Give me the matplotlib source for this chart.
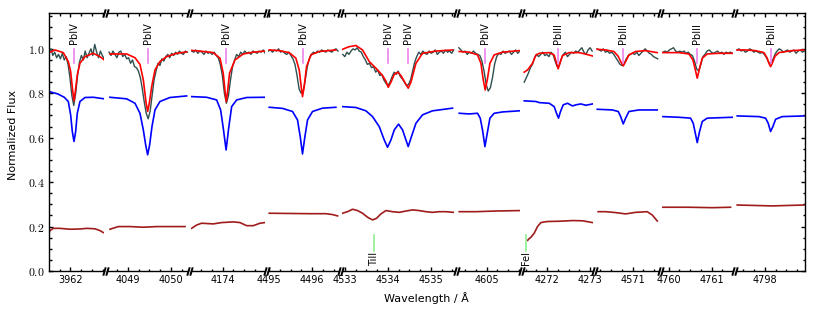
import numpy as np
import matplotlib
matplotlib.use("Agg")
import matplotlib.pyplot as plt
from matplotlib.ticker import MultipleLocator, FuncFormatter

# wavelength window of every panel (Angstrom)
windows = [(3961.505, 3962.795), (4048.523, 4050.395), (4173.263, 4174.99),
           (4494.977, 4496.628), (4532.937, 4535.565), (4604.337, 4605.779),
           (4271.447, 4273.080), (4570.156, 4571.621), (4759.856, 4761.495),
           (4797.326, 4798.930)]

# observed spectrum: (start, end) of the sampling and flux values
obs1_span = (3961.505, 3962.79)
obs1 = [0.99, 1.00, 0.97, 0.985, 0.96, 0.975, 0.955, 0.98, 0.95, 0.965, 0.93, 0.87, 0.79, 0.745, 0.80,
        0.88, 0.94, 0.97, 0.95, 0.99, 0.96, 0.98, 1.00, 0.97, 1.02, 0.985, 0.96, 0.99, 0.97, 0.955]
obs2_span = (4048.56, 4050.38)
obs2 = [0.985, 0.97, 0.99, 0.975, 0.96, 0.985, 0.99, 0.965, 0.975, 0.955, 0.96, 0.935, 0.95, 0.92,
        0.915, 0.90, 0.87, 0.82, 0.76, 0.71, 0.685, 0.72, 0.79, 0.86, 0.90, 0.935, 0.925, 0.955, 0.945,
        0.965, 0.975, 0.96, 0.98, 0.97, 0.985, 0.975, 0.99, 0.98, 0.975, 0.99, 0.985]
obs3_span = (4173.28, 4174.99)
obs3 = [0.99, 0.985, 0.995, 0.98, 0.99, 0.985, 0.975, 0.99, 0.98, 0.985, 0.975, 0.985, 0.97, 0.96,
        0.93, 0.88, 0.80, 0.755, 0.79, 0.86, 0.92, 0.95, 0.975, 0.965, 0.985, 0.975, 0.99, 0.98, 0.985,
        0.975, 0.99, 0.985, 0.98, 0.99, 0.985, 0.995, 0.98]
obs4_span = (4494.98, 4496.6)
obs4 = [0.99, 0.995, 0.985, 0.995, 0.99, 1.0, 0.985, 0.99, 0.98, 0.975, 0.985, 0.97, 0.955, 0.93,
        0.88, 0.82, 0.80, 0.81, 0.86, 0.92, 0.955, 0.975, 0.985, 0.98, 0.99, 0.985, 0.995, 0.99, 0.985,
        0.995, 0.99, 0.985, 0.995, 1.0, 0.99]
obs5_span = (4532.95, 4535.53)
obs5 = [0.975, 0.965, 0.985, 0.975, 0.99, 1.0, 0.995, 1.005, 0.99, 0.985, 0.965, 0.95, 0.93, 0.935,
        0.915, 0.92, 0.895, 0.905, 0.88, 0.885, 0.86, 0.845, 0.835, 0.85, 0.875, 0.895, 0.885, 0.9,
        0.875, 0.865, 0.85, 0.835, 0.84, 0.86, 0.9, 0.94, 0.965, 0.985, 0.975, 0.99, 0.98, 0.975, 0.99,
        0.98, 0.985, 0.995, 0.975, 0.985, 0.99, 0.98, 0.995, 0.985, 0.99, 0.98, 0.995]
obs6_span = (4604.35, 4605.77)
obs6 = [1.005, 0.995, 0.985, 0.99, 0.975, 0.985, 0.98, 0.99, 0.98, 0.975, 0.97, 0.945, 0.90, 0.84,
        0.81, 0.825, 0.87, 0.93, 0.965, 0.98, 0.975, 0.99, 0.98, 0.985, 0.99, 0.975, 0.985, 0.995,
        0.98, 0.99]
obs7_span = (4271.47, 4273.05)
obs7 = [0.85, 0.87, 0.89, 0.915, 0.93, 0.96, 0.975, 0.965, 0.975, 0.985, 0.97, 0.975, 0.965, 0.985,
        0.975, 0.945, 0.92, 0.925, 0.955, 0.975, 0.985, 0.965, 0.975, 0.985, 0.98, 0.99, 0.985, 0.995,
        1.005, 0.985, 0.975, 0.995, 1.005, 0.99]
obs8_span = (4570.17, 4571.58)
obs8 = [1.0, 0.995, 0.99, 1.0, 0.985, 0.99, 0.98, 0.985, 0.975, 0.96, 0.945, 0.93, 0.925, 0.935,
        0.955, 0.97, 0.975, 0.98, 0.975, 0.985, 0.97, 0.98, 0.99, 1.0, 0.99, 0.98, 0.975, 0.965, 0.96,
        0.955]
obs9_span = (4759.87, 4761.48)
obs9 = [0.985, 0.99, 0.985, 0.995, 1.0, 1.005, 0.99, 0.985, 0.99, 0.985, 0.99, 0.98, 0.985, 0.975,
        0.97, 0.945, 0.91, 0.90, 0.93, 0.965, 0.975, 0.99, 0.995, 0.985, 0.98, 0.985, 0.99, 0.98, 0.985,
        0.975, 0.985, 0.98, 0.985, 0.98]
obs10_span = (4797.35, 4798.92)
obs10 = [0.995, 1.0, 0.99, 0.995, 0.985, 0.99, 1.0, 0.995, 0.985, 0.99, 0.985, 0.98, 0.985, 0.975,
         0.96, 0.94, 0.935, 0.95, 0.975, 0.99, 1.0, 0.995, 0.985, 0.99, 0.995, 0.985, 0.99, 0.995,
         0.98, 0.99, 0.995, 0.985, 0.99]

# fitted model (red)
red1_wl = [3961.505, 3961.644, 3961.837, 3961.954, 3962.008, 3962.054, 3962.086, 3962.117, 3962.163,
           3962.225, 3962.342, 3962.535, 3962.69, 3962.79]
red1 = [0.983, 0.995, 0.983, 0.943, 0.898, 0.815, 0.766, 0.808, 0.883, 0.935, 0.965, 0.98, 0.965, 0.95]
red2_wl = [4048.581, 4048.969, 4049.163, 4049.279, 4049.357, 4049.419, 4049.457, 4049.496, 4049.551,
           4049.628, 4049.744, 4049.899, 4050.132, 4050.364]
red2 = [0.977, 0.977, 0.96, 0.93, 0.86, 0.76, 0.718, 0.755, 0.83, 0.905, 0.943, 0.965, 0.98, 0.986]
red3_wl = [4173.279, 4173.472, 4173.781, 4173.937, 4174.014, 4174.06, 4174.085, 4174.11, 4174.16,
           4174.286, 4174.479, 4174.712, 4174.984]
red3 = [0.993, 0.99, 0.983, 0.958, 0.89, 0.80, 0.762, 0.80, 0.89, 0.95, 0.977, 0.985, 0.99]
red4_wl = [4495.0, 4495.233, 4495.465, 4495.62, 4495.698, 4495.744, 4495.774, 4495.814, 4495.868,
           4495.97, 4496.163, 4496.55]
red4 = [0.995, 0.992, 0.983, 0.958, 0.905, 0.83, 0.785, 0.83, 0.92, 0.973, 0.988, 0.995]
red5_wl = [4532.944, 4533.10, 4533.256, 4533.41, 4533.565, 4533.721, 4533.874, 4533.953, 4534.007,
           4534.07, 4534.147, 4534.223, 4534.302, 4534.419, 4534.472, 4534.535, 4534.651, 4534.805,
           4535.116, 4535.502]
red5 = [0.998, 1.01, 1.015, 0.995, 0.943, 0.913, 0.88, 0.855, 0.827, 0.85, 0.885, 0.895, 0.88, 0.84,
        0.823, 0.85, 0.935, 0.98, 0.99, 0.995]
red6_wl = [4604.36, 4604.593, 4604.786, 4604.865, 4604.919, 4604.965, 4605.012, 4605.074, 4605.174,
           4605.367, 4605.756]
red6 = [0.988, 0.985, 0.973, 0.935, 0.86, 0.815, 0.86, 0.935, 0.973, 0.985, 0.992]
red7_wl = [4271.47, 4271.547, 4271.663, 4271.742, 4271.819, 4272.051, 4272.167, 4272.221, 4272.26,
           4272.30, 4272.36, 4272.516, 4272.749, 4272.905, 4273.058]
red7 = [0.895, 0.905, 0.935, 0.972, 0.98, 0.983, 0.972, 0.935, 0.91, 0.935, 0.97, 0.983, 0.983, 0.976,
        0.968]
red8_wl = [4570.174, 4570.37, 4570.563, 4570.663, 4570.719, 4570.779, 4570.835, 4570.912, 4571.067,
           4571.30, 4571.57]
red8 = [0.998, 0.995, 0.988, 0.966, 0.943, 0.923, 0.943, 0.973, 0.988, 0.992, 0.983]
red9_wl = [4759.867, 4760.24, 4760.472, 4760.565, 4760.612, 4760.665, 4760.72, 4760.782, 4760.898,
           4761.17, 4761.48]
red9 = [0.983, 0.983, 0.977, 0.95, 0.913, 0.868, 0.913, 0.958, 0.977, 0.98, 0.98]
red10_wl = [4797.356, 4797.55, 4797.784, 4797.977, 4798.054, 4798.093, 4798.132, 4798.171, 4798.233,
            4798.326, 4798.636, 4798.907]
red10 = [0.995, 0.995, 0.992, 0.983, 0.958, 0.935, 0.92, 0.935, 0.966, 0.983, 0.992, 0.995]

# offset model (blue)
blue1_wl = [3961.505, 3961.71, 3961.86, 3961.954, 3962.008, 3962.047, 3962.086, 3962.125, 3962.163,
            3962.225, 3962.342, 3962.535, 3962.79]
blue1 = [0.808, 0.797, 0.782, 0.763, 0.703, 0.628, 0.583, 0.628, 0.71, 0.763, 0.781, 0.782, 0.775]
blue2_wl = [4048.581, 4048.969, 4049.163, 4049.279, 4049.357, 4049.411, 4049.457, 4049.504, 4049.558,
            4049.628, 4049.744, 4049.977, 4050.364]
blue2 = [0.782, 0.775, 0.755, 0.71, 0.635, 0.568, 0.523, 0.568, 0.65, 0.725, 0.763, 0.781, 0.788]
blue3_wl = [4173.279, 4173.628, 4173.86, 4173.953, 4174.014, 4174.08, 4174.14, 4174.209, 4174.326,
            4174.558, 4174.984]
blue3 = [0.785, 0.782, 0.77, 0.725, 0.643, 0.545, 0.643, 0.74, 0.77, 0.781, 0.782]
blue4_wl = [4495.0, 4495.309, 4495.542, 4495.658, 4495.721, 4495.774, 4495.83, 4495.891, 4496.007,
            4496.24, 4496.551]
blue4 = [0.737, 0.732, 0.718, 0.68, 0.605, 0.527, 0.605, 0.68, 0.718, 0.733, 0.737]
blue5_wl = [4532.944, 4533.256, 4533.488, 4533.642, 4533.798, 4533.914, 4533.991, 4534.07, 4534.147,
            4534.247, 4534.34, 4534.419, 4534.472, 4534.535, 4534.651, 4534.805, 4535.037, 4535.502]
blue5 = [0.74, 0.736, 0.721, 0.695, 0.65, 0.59, 0.557, 0.59, 0.635, 0.661, 0.635, 0.59, 0.56, 0.598,
         0.665, 0.703, 0.721, 0.733]
blue6_wl = [4604.36, 4604.593, 4604.786, 4604.849, 4604.902, 4604.958, 4605.012, 4605.074, 4605.174,
            4605.367, 4605.756]
blue6 = [0.71, 0.707, 0.71, 0.688, 0.635, 0.56, 0.62, 0.688, 0.71, 0.716, 0.721]
blue7_wl = [4271.47, 4271.742, 4271.819, 4272.051, 4272.167, 4272.221, 4272.267, 4272.314, 4272.377,
            4272.477, 4272.593, 4272.672, 4272.788, 4272.905, 4273.058]
blue7 = [0.766, 0.763, 0.758, 0.755, 0.74, 0.71, 0.688, 0.718, 0.748, 0.755, 0.743, 0.748, 0.752,
         0.746, 0.752]
blue8_wl = [4570.174, 4570.523, 4570.663, 4570.719, 4570.779, 4570.835, 4570.912, 4571.144, 4571.57]
blue8 = [0.728, 0.725, 0.718, 0.695, 0.662, 0.688, 0.718, 0.725, 0.725]
blue9_wl = [4759.867, 4760.24, 4760.511, 4760.572, 4760.612, 4760.665, 4760.72, 4760.782, 4760.898,
            4761.48]
blue9 = [0.695, 0.692, 0.688, 0.665, 0.628, 0.578, 0.628, 0.673, 0.688, 0.692]
blue10_wl = [4797.356, 4797.86, 4798.016, 4798.077, 4798.132, 4798.186, 4798.249, 4798.402, 4798.907]
blue10 = [0.698, 0.695, 0.688, 0.665, 0.628, 0.65, 0.683, 0.695, 0.698]

# lower curve (dark red)
brown1_wl = [3961.505, 3961.528, 3961.605, 3961.76, 3961.993, 3962.225, 3962.38, 3962.574, 3962.69,
             3962.767]
brown1 = [0.17, 0.182, 0.192, 0.192, 0.188, 0.189, 0.192, 0.19, 0.182, 0.173]
brown2_wl = [4048.581, 4048.775, 4049.047, 4049.357, 4049.667, 4049.9, 4050.326]
brown2 = [0.188, 0.2, 0.2, 0.197, 0.2, 0.2, 0.2]
brown3_wl = [4173.279, 4173.395, 4173.51, 4173.781, 4173.977, 4174.247, 4174.402, 4174.557, 4174.712,
             4174.867, 4174.984]
brown3 = [0.192, 0.207, 0.215, 0.212, 0.218, 0.221, 0.218, 0.204, 0.204, 0.215, 0.218]
brown4_wl = [4495.0, 4495.465, 4495.93, 4496.318, 4496.473, 4496.59]
brown4 = [0.26, 0.259, 0.258, 0.258, 0.254, 0.248]
brown5_wl = [4532.944, 4533.06, 4533.177, 4533.293, 4533.41, 4533.526, 4533.642, 4533.735, 4533.837,
             4533.953, 4534.107, 4534.263, 4534.419, 4534.572, 4534.728, 4534.884, 4535.037, 4535.193,
             4535.349, 4535.519]
brown5 = [0.26, 0.267, 0.278, 0.272, 0.26, 0.242, 0.23, 0.237, 0.257, 0.272, 0.267, 0.264, 0.27,
          0.275, 0.272, 0.267, 0.264, 0.267, 0.267, 0.264]
brown6_wl = [4604.36, 4604.748, 4605.213, 4605.756]
brown6 = [0.267, 0.267, 0.27, 0.272]
brown7_wl = [4271.55, 4271.57, 4271.626, 4271.702, 4271.779, 4271.858, 4271.974, 4272.051, 4272.284,
             4272.593, 4272.826, 4273.058]
brown7 = [0.138, 0.143, 0.152, 0.17, 0.20, 0.218, 0.222, 0.223, 0.224, 0.227, 0.226, 0.218]
brown8_wl = [4570.195, 4570.37, 4570.60, 4570.835, 4571.067, 4571.337, 4571.454, 4571.57]
brown8 = [0.267, 0.267, 0.263, 0.257, 0.264, 0.267, 0.252, 0.225]
brown9_wl = [4759.867, 4760.472, 4761.014, 4761.44]
brown9 = [0.287, 0.287, 0.285, 0.287]
brown10_wl = [4797.356, 4798.171, 4798.907]
brown10 = [0.297, 0.293, 0.297]

# line identifications
pb_wl = [3962.086, 4049.457, 4174.08, 4495.78, 4534.007, 4534.472, 4604.965, 4272.26, 4570.779,
         4760.665, 4798.132]
pb_names = ["PbIV"] * 7 + ["PbIII"] * 4
blend_wl = [4533.68, 4271.51]
blend_names = ["TiII", "FeI"]

obs_spans = [obs1_span, obs2_span, obs3_span, obs4_span, obs5_span, obs6_span, obs7_span, obs8_span,
             obs9_span, obs10_span]
obs_all = [obs1, obs2, obs3, obs4, obs5, obs6, obs7, obs8, obs9, obs10]
red_all = [(red1_wl, red1), (red2_wl, red2), (red3_wl, red3), (red4_wl, red4), (red5_wl, red5),
           (red6_wl, red6), (red7_wl, red7), (red8_wl, red8), (red9_wl, red9), (red10_wl, red10)]
blue_all = [(blue1_wl, blue1), (blue2_wl, blue2), (blue3_wl, blue3), (blue4_wl, blue4),
            (blue5_wl, blue5), (blue6_wl, blue6), (blue7_wl, blue7), (blue8_wl, blue8),
            (blue9_wl, blue9), (blue10_wl, blue10)]
brown_all = [(brown1_wl, brown1), (brown2_wl, brown2), (brown3_wl, brown3), (brown4_wl, brown4),
             (brown5_wl, brown5), (brown6_wl, brown6), (brown7_wl, brown7), (brown8_wl, brown8),
             (brown9_wl, brown9), (brown10_wl, brown10)]

plt.rcParams["mathtext.fontset"] = "cm"
plt.rcParams["font.family"] = "DejaVu Sans"

W, H = 823, 316
fig = plt.figure(figsize=(W / 100, H / 100), dpi=100)

px_per_A = 43.0
x_px = 49.0
gap = 3.0
bottom = 45.0 / H
height = 257.7 / H
n = len(windows)

brk = dict(marker=[(-0.3, -1), (0.3, 1)], markersize=6, linestyle="none", color="k", mec="k",
           mew=1.4, clip_on=False)

for i in range(n):
    lo, hi = windows[i]
    w = (hi - lo) * px_per_A
    ax = fig.add_axes([x_px / W, bottom, w / W, height])
    x_px += w + gap

    s0, s1 = obs_spans[i]
    ax.plot(np.linspace(s0, s1, len(obs_all[i])), obs_all[i], color="darkslategray", lw=1.0)
    ax.plot(red_all[i][0], red_all[i][1], color="red", lw=1.2)
    ax.plot(blue_all[i][0], blue_all[i][1], color="blue", lw=1.2)
    ax.plot(brown_all[i][0], brown_all[i][1], color="#a01c1c", lw=1.2)

    for wl, name in zip(pb_wl, pb_names):
        if lo < wl < hi:
            ax.plot([wl, wl], [0.935, 1.0], color="violet", lw=1.2)
            ax.text(wl, 1.02, name, rotation=90, ha="center", va="bottom", fontsize=7)
    for wl, name in zip(blend_wl, blend_names):
        if lo < wl < hi:
            ax.plot([wl, wl], [0.092, 0.162], color="lightgreen", lw=1.2)
            ax.text(wl, 0.088, name, rotation=90, ha="center", va="top", fontsize=7)

    ax.set_xlim(lo, hi)
    ax.set_ylim(0, 1.16)
    ax.xaxis.set_major_locator(MultipleLocator(1))
    ax.xaxis.set_minor_locator(MultipleLocator(0.25))
    ax.xaxis.set_major_formatter(FuncFormatter(lambda v, p: "%d" % round(v)))
    ax.yaxis.set_major_locator(MultipleLocator(0.2))
    ax.yaxis.set_minor_locator(MultipleLocator(0.05))
    ax.yaxis.set_major_formatter(FuncFormatter(lambda v, p: r"$%.1f$" % v))
    ax.tick_params(which="both", direction="in", top=True, bottom=True, width=1.0)
    ax.tick_params(which="major", length=3.2, labelsize=7, pad=3)
    ax.tick_params(which="minor", length=1.8)
    ax.tick_params(axis="y", labelsize=8.5)
    for sp in ax.spines.values():
        sp.set_linewidth(1.0)

    if i > 0:
        ax.spines["left"].set_visible(False)
        ax.plot([0, 0], [0, 1], transform=ax.transAxes, **brk)
    if i < n - 1:
        ax.spines["right"].set_visible(False)
        ax.plot([1, 1], [0, 1], transform=ax.transAxes, **brk)
    if i == 0:
        ax.tick_params(axis="y", which="both", left=True, right=False, labelleft=True)
    elif i == n - 1:
        ax.tick_params(axis="y", which="both", left=False, right=True, labelleft=False)
    else:
        ax.tick_params(axis="y", which="both", left=False, right=False, labelleft=False)

fig.text(13 / W, 1 - 135 / H, "Normalized Flux", rotation=90, ha="center", va="center", fontsize=8)
fig.text(426 / W, 1 - 298 / H, "Wavelength / Å", ha="center", va="center", fontsize=8)

fig.savefig("out.png", dpi=100)
